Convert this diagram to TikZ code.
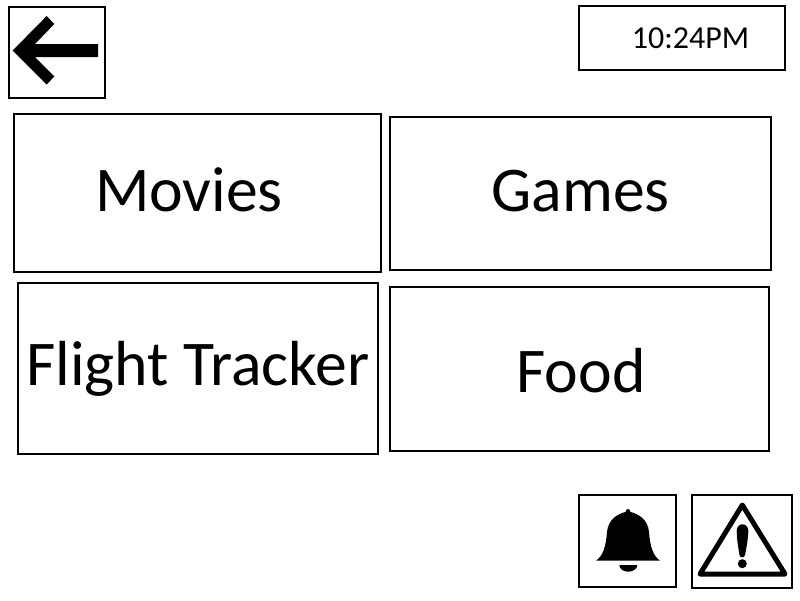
\documentclass[tikz,border=0pt]{standalone}
\usepackage{fontspec}
\setmainfont{Carlito}
\tikzset{
    panel/.style={draw=black, line width=2pt, fill=white, inner sep=0pt},
    tilelabel/.style={anchor=base, inner sep=0pt, font=\fontsize{63.7}{64}\selectfont},
    clocklabel/.style={anchor=base, inner sep=0pt, font=\fontsize{32}{32}\selectfont}
}
\begin{document}
\begin{tikzpicture}[x=1pt, y=-1pt]
    \useasboundingbox (0,0) rectangle (800,600);

    % Cadres du haut
    \node[panel, minimum width=96pt, minimum height=91pt] (back) at (57,52.5) {};
    \node[panel, minimum width=206pt, minimum height=64pt] (clock) at (682,38) {};
    \node[clocklabel] (clocktext) at (690.5,48) {10:24PM};

    % Les quatre tuiles
    \node[panel, minimum width=367pt, minimum height=158pt] (movies) at (197.5,193) {};
    \node[panel, minimum width=381pt, minimum height=153pt] (games) at (580.5,193.5) {};
    \node[panel, minimum width=360pt, minimum height=171pt] (flight) at (198,368.5) {};
    \node[panel, minimum width=379pt, minimum height=164pt] (food) at (579.5,369) {};
    \node[tilelabel] (moviestext) at (189,211) {Movies};
    \node[tilelabel] (gamestext) at (580.5,211) {Games};
    \node[tilelabel] (flighttext) at (198,385) {Flight Tracker};
    \node[tilelabel] (foodtext) at (581,392) {Food};

    % Cadres du bas
    \node[panel, minimum width=97pt, minimum height=92pt] (bell) at (627.5,541) {};
    \node[panel, minimum width=100pt, minimum height=93pt] (warning) at (742,541.5) {};

    % Fleche de retour
    \fill (12.7,50.5) -- (46.7,16) -- (54.3,24) -- (35,44) -- (98,44) -- (98,57)
        -- (35,57) -- (54.3,76.5) -- (46.7,84.5) -- cycle;

    % Cloche
    \fill (596,560.7) .. controls (603,556) and (606,546) .. (607,532)
        .. controls (608,520) and (617,514) .. (625.5,512)
        .. controls (626,508) and (630,508) .. (630.5,512)
        .. controls (639,514) and (648,520) .. (649,532)
        .. controls (650,546) and (653,556) .. (660,560.7) -- cycle;
    \fill (619.3,565) arc[start angle=180, end angle=360, x radius=9, y radius=-6.7] -- cycle;

    % Triangle d'alerte
    \draw[line width=5pt, line join=round] (742.3,505) -- (700,574) -- (785,574) -- cycle;
    \fill (736.7,531) .. controls (736.7,522) and (748.3,522) .. (748.3,531)
        .. controls (748.3,538) and (746,550) .. (745,555)
        .. controls (744.5,558) and (740,558) .. (739.5,555)
        .. controls (738.5,550) and (736.7,538) .. (736.7,531) -- cycle;
    \fill (742.3,563.7) circle[radius=4.5];
\end{tikzpicture}
\end{document}
